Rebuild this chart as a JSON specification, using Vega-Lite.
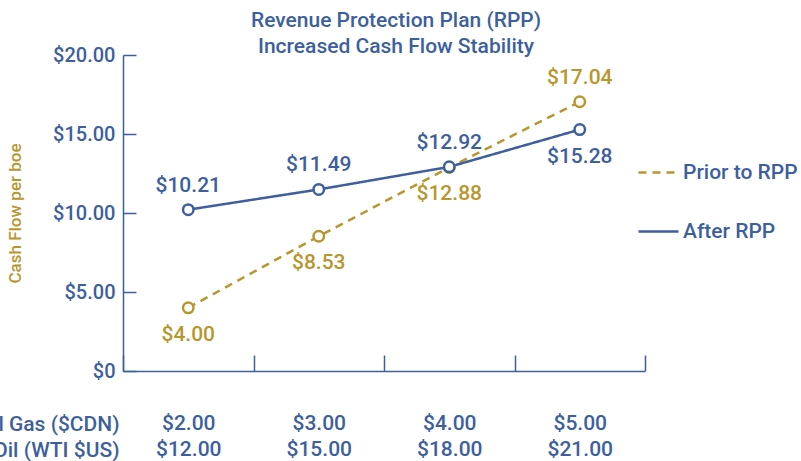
{
  "$schema": "https://vega.github.io/schema/vega-lite/v6.json",
  "width": 522,
  "height": 316,
  "autosize": {"type": "none"},
  "padding": {"left": 123, "top": 55, "right": 156, "bottom": 90},
  "background": "white",
  "config": {"font": "Roboto", "view": {"stroke": null}},
  "title": {
    "text": ["Revenue Protection Plan (RPP)", "Increased Cash Flow Stability"],
    "color": "#3d5f9e",
    "fontSize": 21,
    "fontWeight": 500,
    "lineHeight": 26,
    "anchor": "middle",
    "dx": 12,
    "dy": 12,
    "offset": 0
  },
  "data": {
    "values": [
      {"prices": "$2.00|$12.00", "series": "Prior to RPP", "value": 4.00},
      {"prices": "$3.00|$15.00", "series": "Prior to RPP", "value": 8.53},
      {"prices": "$4.00|$18.00", "series": "Prior to RPP", "value": 12.88},
      {"prices": "$5.00|$21.00", "series": "Prior to RPP", "value": 17.04},
      {"prices": "$2.00|$12.00", "series": "After RPP", "value": 10.21},
      {"prices": "$3.00|$15.00", "series": "After RPP", "value": 11.49},
      {"prices": "$4.00|$18.00", "series": "After RPP", "value": 12.92},
      {"prices": "$5.00|$21.00", "series": "After RPP", "value": 15.28}
    ]
  },
  "encoding": {
    "x": {
      "field": "prices",
      "type": "ordinal",
      "sort": null,
      "scale": {"paddingInner": 0, "paddingOuter": 0},
      "axis": {
        "title": ["Natural Gas ($CDN)", "Oil (WTI $US)"],
        "titleAlign": "right",
        "titleBaseline": "top",
        "titleX": -4,
        "titleY": 42,
        "titleColor": "#3d5f9e",
        "titleFontSize": 21,
        "titleFontWeight": 500,
        "titleLineHeight": 26,
        "labelExpr": "split(datum.label, '|')",
        "labelAngle": 0,
        "labelBaseline": "top",
        "labelLineHeight": 26,
        "labelPadding": 57,
        "labelFontSize": 21,
        "labelFontWeight": 500,
        "labelColor": "#3d5f9e",
        "tickBand": "extent",
        "tickSize": -16,
        "tickWidth": 1.5,
        "tickColor": "#3d5f9e",
        "domainColor": "#3d5f9e",
        "domainWidth": 1.5,
        "grid": false
      }
    },
    "y": {
      "field": "value",
      "type": "quantitative",
      "scale": {"domain": [0, 20]},
      "axis": {
        "title": "Cash Flow per boe",
        "titleColor": "#b8962e",
        "titleFontSize": 17,
        "titleFontWeight": 500,
        "titlePadding": 28,
        "values": [0, 5, 10, 15, 20],
        "labelExpr": "datum.value == 0 ? '$0' : format(datum.value, '$.2f')",
        "labelFontSize": 20,
        "labelFontWeight": 500,
        "labelColor": "#3d5f9e",
        "labelPadding": 21,
        "tickSize": -13,
        "tickWidth": 1.5,
        "tickColor": "#3d5f9e",
        "domainColor": "#3d5f9e",
        "domainWidth": 1.5,
        "grid": false
      }
    }
  },
  "layer": [
    {
      "mark": {"type": "line", "strokeWidth": 2.5},
      "encoding": {
        "color": {
          "field": "series",
          "type": "nominal",
          "scale": {"domain": ["Prior to RPP", "After RPP"], "range": ["#b8962e", "#3d5f9e"]},
          "legend": {
            "title": null,
            "orient": "none",
            "legendX": 514,
            "legendY": 96,
            "symbolType": "stroke",
            "symbolSize": 1600,
            "symbolStrokeWidth": 2.5,
            "labelFontSize": 21,
            "labelFontWeight": 500,
            "labelColor": "#3d5f9e",
            "labelOffset": 3,
            "rowPadding": 27
          }
        },
        "strokeDash": {
          "field": "series",
          "type": "nominal",
          "scale": {"domain": ["Prior to RPP", "After RPP"], "range": [[8, 6], [1, 0]]},
          "legend": {
            "title": null,
            "orient": "none",
            "legendX": 514,
            "legendY": 96,
            "symbolType": "stroke",
            "symbolSize": 1600,
            "symbolStrokeWidth": 2.5,
            "labelFontSize": 21,
            "labelFontWeight": 500,
            "labelColor": "#3d5f9e",
            "labelOffset": 3,
            "rowPadding": 27
          }
        }
      }
    },
    {
      "mark": {"type": "point", "filled": true, "fill": "white", "size": 110, "strokeWidth": 2.5, "opacity": 1},
      "encoding": {
        "stroke": {
          "field": "series",
          "type": "nominal",
          "scale": {"domain": ["Prior to RPP", "After RPP"], "range": ["#b8962e", "#3d5f9e"]},
          "legend": null
        }
      }
    },
    {
      "transform": [{"filter": "(datum.series == 'After RPP' && datum.prices != '$5.00|$21.00') || (datum.series == 'Prior to RPP' && datum.prices == '$5.00|$21.00')"}],
      "mark": {"type": "text", "fontSize": 21, "fontWeight": 500, "dy": -24},
      "encoding": {
        "text": {"field": "value", "type": "quantitative", "format": "$.2f"},
        "color": {"field": "series", "type": "nominal", "legend": null}
      }
    },
    {
      "transform": [{"filter": "!((datum.series == 'After RPP' && datum.prices != '$5.00|$21.00') || (datum.series == 'Prior to RPP' && datum.prices == '$5.00|$21.00'))"}],
      "mark": {"type": "text", "fontSize": 21, "fontWeight": 500, "dy": 27},
      "encoding": {
        "text": {"field": "value", "type": "quantitative", "format": "$.2f"},
        "color": {"field": "series", "type": "nominal", "legend": null}
      }
    }
  ]
}
